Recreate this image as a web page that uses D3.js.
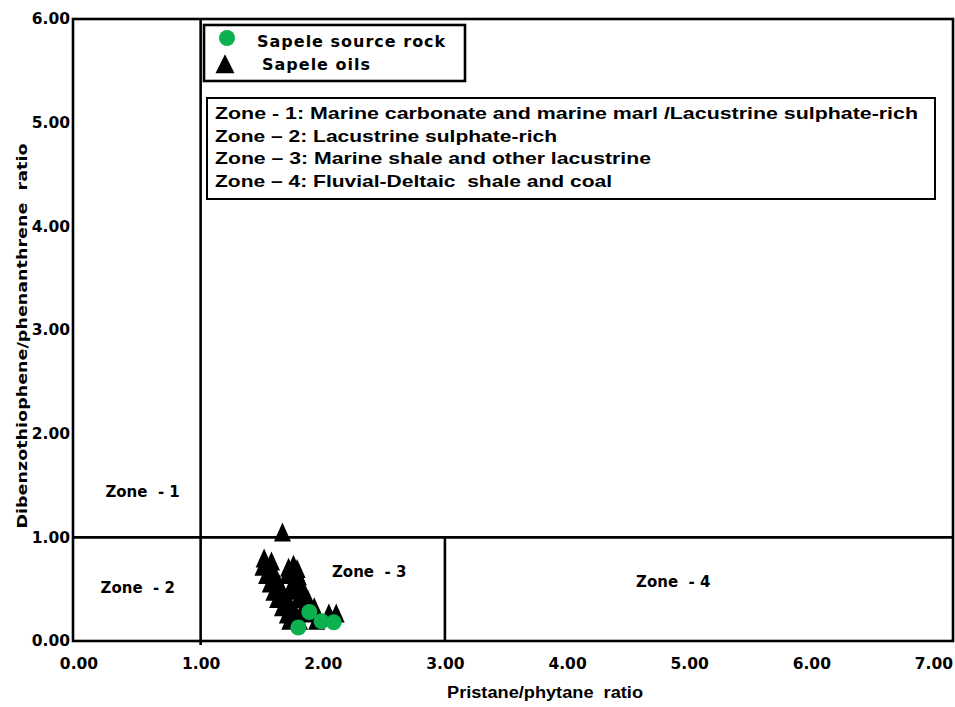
<!DOCTYPE html>
<html>
<head>
<meta charset="utf-8">
<script src="https://cdn.jsdelivr.net/npm/d3@7"></script>
<style>
  html, body { margin: 0; padding: 0; background: #fff; }
  svg { display: block; }
  text { fill: #000; }
</style>
</head>
<body>
<svg id="chart" width="955" height="707"></svg>
<script>
// Sapele oils: pristane/phytane vs dibenzothiophene/phenanthrene
const oilPrPh = [
  1.67,
  1.52, 1.58, 1.76,
  1.51, 1.58, 1.72, 1.79,
  1.54, 1.61, 1.71, 1.80,
  1.57, 1.64, 1.75, 1.82,
  1.60, 1.67, 1.77, 1.84,
  1.63, 1.71, 1.80, 1.88,
  1.67, 1.74, 1.84, 1.93,
  1.71, 1.78, 1.87, 2.05, 2.11,
  1.73, 1.81, 1.95
];
const oilDbtPhen = [
  1.02,
  0.77, 0.74, 0.71,
  0.69, 0.68, 0.68, 0.67,
  0.61, 0.60, 0.61, 0.60,
  0.53, 0.53, 0.52, 0.52,
  0.45, 0.45, 0.46, 0.45,
  0.38, 0.37, 0.38, 0.37,
  0.30, 0.30, 0.29, 0.30,
  0.23, 0.23, 0.24, 0.24, 0.24,
  0.17, 0.17, 0.17
];

// Sapele source rock extracts
const rockPrPh = [1.80, 1.89, 1.99, 2.09];
const rockDbtPhen = [0.13, 0.28, 0.19, 0.18];

// Axis ticks
const xTicks = [0, 1, 2, 3, 4, 5, 6, 7];
const yTicks = [0, 1, 2, 3, 4, 5, 6];

// Zone boundaries (Pr/Ph and DBT/Phen)
const zonePrPh = [1, 3];
const zoneDbt = 1;

// Zone names and where each one is written (data units)
const zoneNames = ["Zone  - 1", "Zone  - 2", "Zone  - 3", "Zone  - 4"];
const zoneLabelPr = [0.525, 0.485, 2.38, 4.87];
const zoneLabelDbt = [1.39, 0.46, 0.62, 0.52];

// Key to the zones
const zoneKey = [
  "Zone - 1: Marine carbonate and marine marl /Lacustrine sulphate-rich",
  "Zone \u2013 2: Lacustrine sulphate-rich",
  "Zone \u2013 3: Marine shale and other lacustrine",
  "Zone \u2013 4: Fluvial-Deltaic  shale and coal"
];

const seriesNames = ["Sapele source rock", "Sapele oils"];
const green = "#0cb04f";

const svg = d3.select("#chart");
svg.append("rect").attr("width", 955).attr("height", 707).attr("fill", "#fff");

const x = d3.scaleLinear().domain([-0.045, 7.16]).range([73, 953]);
const y = d3.scaleLinear().domain([0, 6]).range([641, 19]);

const tickFont = "'DejaVu Sans', Verdana, sans-serif";
const textFont = "'Liberation Sans', Arial, sans-serif";

// Axes (no tick marks, bold two-decimal labels)
const xAxis = svg.append("g")
  .attr("transform", `translate(0,${y(0)})`)
  .call(d3.axisBottom(x).tickValues(xTicks).tickFormat(d3.format(".2f"))
    .tickSize(0).tickPadding(17));
const yAxis = svg.append("g")
  .attr("transform", `translate(${x.range()[0]},0)`)
  .call(d3.axisLeft(y).tickValues(yTicks).tickFormat(d3.format(".2f"))
    .tickSize(0).tickPadding(3));
[xAxis, yAxis].forEach(g => {
  g.select(".domain").remove();
  g.selectAll("text")
    .attr("font-family", tickFont)
    .attr("font-weight", "bold")
    .attr("font-size", 15.5)
    .attr("fill", "#000");
});

// Plot frame
svg.append("rect")
  .attr("x", x.range()[0]).attr("y", y.range()[1])
  .attr("width", x.range()[1] - x.range()[0])
  .attr("height", y.range()[0] - y.range()[1])
  .attr("fill", "none").attr("stroke", "#000").attr("stroke-width", 2.6);

// Zone boundaries
const zones = svg.append("g").attr("stroke", "#000").attr("stroke-width", 2.6);
zones.append("line")
  .attr("x1", x(zonePrPh[0])).attr("x2", x(zonePrPh[0]))
  .attr("y1", y(6)).attr("y2", y(0) + 4);
zones.append("line")
  .attr("x1", x(zonePrPh[1])).attr("x2", x(zonePrPh[1]))
  .attr("y1", y(zoneDbt)).attr("y2", y(0));
zones.append("line")
  .attr("x1", x.range()[0]).attr("x2", x.range()[1])
  .attr("y1", y(zoneDbt)).attr("y2", y(zoneDbt));

// Zone names
svg.append("g").selectAll("text")
  .data(zoneNames)
  .join("text")
  .attr("x", (d, i) => x(zoneLabelPr[i]))
  .attr("y", (d, i) => y(zoneLabelDbt[i]))
  .attr("text-anchor", "middle")
  .attr("font-family", tickFont)
  .attr("font-weight", "bold")
  .attr("font-size", 15)
  .attr("xml:space", "preserve")
  .text(d => d);

// Markers
const triPath = (w, h) => `M0,${-2 * h / 3}L${w / 2},${h / 3}L${-w / 2},${h / 3}Z`;

svg.append("g").selectAll("path")
  .data(oilPrPh)
  .join("path")
  .attr("transform", (d, i) => `translate(${x(d)},${y(oilDbtPhen[i])})`)
  .attr("d", triPath(17, 19))
  .attr("fill", "#000");

svg.append("g").selectAll("circle")
  .data(rockPrPh)
  .join("circle")
  .attr("cx", d => x(d))
  .attr("cy", (d, i) => y(rockDbtPhen[i]))
  .attr("r", 8)
  .attr("fill", green);

// Series legend
const leg = svg.append("g");
leg.append("rect")
  .attr("x", 204).attr("y", 25).attr("width", 261).attr("height", 56)
  .attr("fill", "#fff").attr("stroke", "#000").attr("stroke-width", 2.6);
leg.append("circle").attr("cx", 227).attr("cy", 38).attr("r", 8).attr("fill", green);
leg.append("path").attr("transform", "translate(225,67)").attr("d", triPath(19, 19)).attr("fill", "#000");
leg.selectAll("text.s")
  .data(seriesNames)
  .join("text")
  .attr("class", "s")
  .attr("x", (d, i) => i === 0 ? 257 : 262)
  .attr("y", (d, i) => i === 0 ? 47 : 70)
  .attr("font-family", tickFont)
  .attr("font-weight", "bold")
  .attr("font-size", 16)
  .attr("letter-spacing", 1)
  .text(d => d);

// Zone key
const key = svg.append("g");
key.append("rect")
  .attr("x", 207).attr("y", 98).attr("width", 728).attr("height", 101)
  .attr("fill", "#fff").attr("stroke", "#000").attr("stroke-width", 2);
const keyWidths = [703, 342, 436, 397];
key.selectAll("text")
  .data(zoneKey)
  .join("text")
  .attr("x", 215)
  .attr("y", (d, i) => 119 + i * 22.5)
  .attr("font-family", textFont)
  .attr("font-weight", "bold")
  .attr("font-size", 17)
  .attr("xml:space", "preserve")
  .attr("textLength", (d, i) => keyWidths[i])
  .attr("lengthAdjust", "spacingAndGlyphs")
  .text(d => d);

// Axis titles
svg.append("text")
  .attr("x", 545).attr("y", 698)
  .attr("text-anchor", "middle")
  .attr("font-family", textFont)
  .attr("font-weight", "bold")
  .attr("font-size", 16)
  .attr("xml:space", "preserve")
  .attr("textLength", 196)
  .attr("lengthAdjust", "spacingAndGlyphs")
  .text("Pristane/phytane  ratio");

svg.append("text")
  .attr("transform", "translate(27,336) rotate(-90)")
  .attr("text-anchor", "middle")
  .attr("font-family", tickFont)
  .attr("font-weight", "bold")
  .attr("font-size", 14)
  .attr("xml:space", "preserve")
  .attr("textLength", 385)
  .attr("lengthAdjust", "spacingAndGlyphs")
  .text("Dibenzothiophene/phenanthrene  ratio");
</script>
</body>
</html>
